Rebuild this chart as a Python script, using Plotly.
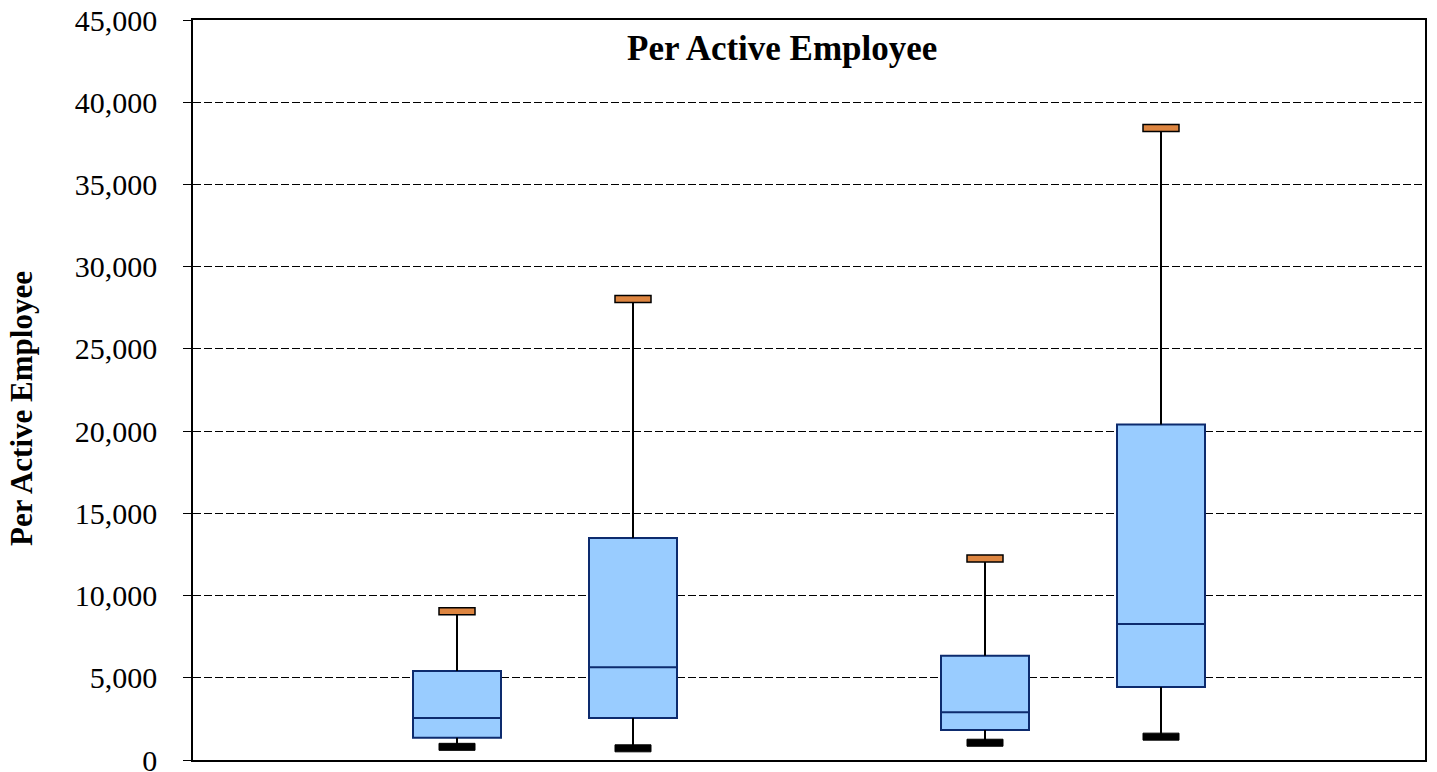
import plotly.graph_objects as go

# ---- data ----
positions = [1, 2, 4, 5]
q1_vals = [1350, 2550, 1820, 4440]
median_vals = [2550, 5640, 2900, 8270]
q3_vals = [5410, 13500, 6340, 20400]
max_vals = [9040, 28040, 12250, 38430]
min_vals = [800, 710, 1050, 1420]
y_ticks = [0, 5000, 10000, 15000, 20000, 25000, 30000, 35000, 40000, 45000]
title_text = "Per Active Employee"
y_title = "Per Active Employee"

BOX_FILL = "#99CCFF"
BOX_LINE = "#0D2B6E"
MAX_FILL = "#DD8540"
FONT = "Liberation Serif"

fig = go.Figure()

fig.add_trace(go.Box(
    x=positions,
    q1=q1_vals, median=median_vals, q3=q3_vals,
    lowerfence=q1_vals, upperfence=q3_vals,
    width=0.5, whiskerwidth=0,
    fillcolor=BOX_FILL,
    line=dict(color=BOX_LINE, width=2),
    boxpoints=False, showlegend=False, hoverinfo="skip",
))

# whiskers
wx, wy = [], []
for x, lo, q1, q3, hi in zip(positions, min_vals, q1_vals, q3_vals, max_vals):
    wx += [x, x, None, x, x, None]
    wy += [q3, hi, None, q1, lo, None]
fig.add_trace(go.Scatter(x=wx, y=wy, mode="lines",
                         line=dict(color="black", width=2),
                         showlegend=False, hoverinfo="skip"))

shapes = []
for x, lo, hi in zip(positions, min_vals, max_vals):
    shapes.append(dict(type="rect", xref="x", yref="y",
                       xsizemode="pixel", xanchor=x, x0=-18, x1=18,
                       ysizemode="pixel", yanchor=hi, y0=-3.5, y1=3.5,
                       fillcolor=MAX_FILL, line=dict(color="black", width=1.5)))
    shapes.append(dict(type="rect", xref="x", yref="y",
                       xsizemode="pixel", xanchor=x, x0=-18, x1=18,
                       ysizemode="pixel", yanchor=lo, y0=-3.5, y1=3.5,
                       fillcolor="black", line=dict(color="black", width=1)))

fig.update_layout(
    width=1437, height=772,
    margin=dict(l=185, r=20, t=12, b=20),
    paper_bgcolor="white", plot_bgcolor="white",
    font=dict(family=FONT, color="black"),
    shapes=shapes,
    annotations=[
        dict(text="<b>" + title_text + "</b>", xref="paper", yref="paper",
             x=0.478, y=0.962, xanchor="center", yanchor="middle",
             showarrow=False,
             font=dict(family=FONT, size=35, color="black")),
        dict(text="<b>" + y_title + "</b>", xref="paper", yref="paper",
             x=-0.1388, y=0.4757, xanchor="center", yanchor="middle",
             textangle=-90, showarrow=False,
             font=dict(family=FONT, size=31, color="black")),
    ],
)

fig.update_xaxes(range=[-0.5, 6.5], showticklabels=False, showgrid=False,
                 zeroline=False, showline=True, mirror=True,
                 linecolor="black", linewidth=1.5, ticks="", automargin=False)
fig.update_yaxes(range=[0, 45000], tickvals=y_ticks, tickformat=",",
                 showgrid=True, gridcolor="black", gridwidth=1.2,
                 griddash="8px,3px",
                 zeroline=False, showline=True, mirror=True,
                 linecolor="black", linewidth=1.5,
                 ticks="outside", ticklen=8, tickcolor="black",
                 ticklabelstandoff=20, ticklabeloverflow="allow",
                 automargin=False,
                 tickfont=dict(family=FONT, size=30, color="black"))

fig.write_html("out.html")
